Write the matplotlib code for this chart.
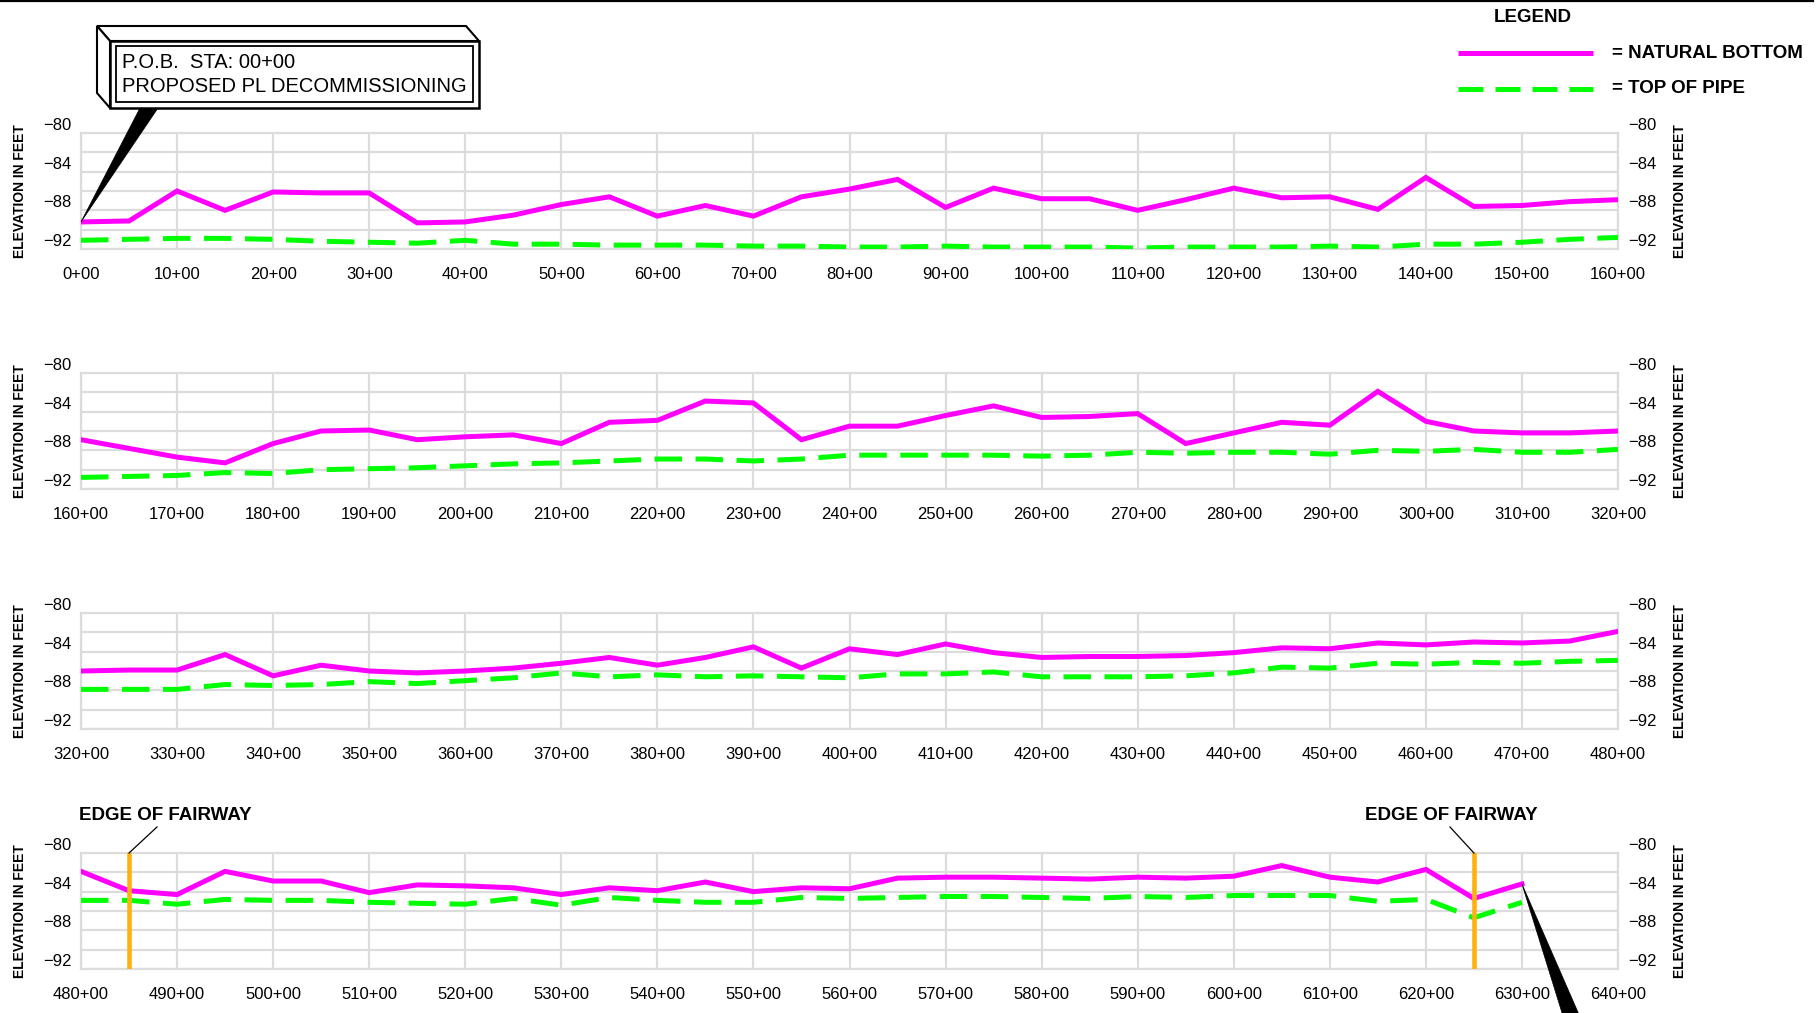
import matplotlib
matplotlib.use("Agg")
import matplotlib.pyplot as plt
from matplotlib.patches import Polygon, Rectangle
from matplotlib.lines import Line2D
from matplotlib.ticker import FuncFormatter, FixedLocator

plt.rcParams["font.family"] = ["Liberation Sans", "DejaVu Sans"]

# stations (x+00), every 5+00 from 0+00 to 630+00
stations = list(range(0, 635, 5))

natural_bottom = [
    -89.2, -89.1, -86.0, -88.0, -86.1, -86.2, -86.2, -89.3, -89.2, -88.5,
    -87.4, -86.6, -88.6, -87.5, -88.6, -86.6, -85.8, -84.8, -87.7, -85.7,
    -86.8, -86.8, -88.0, -86.9, -85.7, -86.7, -86.6, -87.9, -84.6, -87.6,
    -87.5, -87.1, -86.9, -87.8, -88.7, -89.3, -87.3, -86.0, -85.9, -86.9,
    -86.6, -86.4, -87.3, -85.1, -84.9, -82.9, -83.1, -86.9, -85.5, -85.5,
    -84.4, -83.4, -84.6, -84.5, -84.2, -87.3, -86.2, -85.1, -85.4, -81.9,
    -85.0, -86.0, -86.2, -86.2, -86.0, -85.9, -85.9, -84.3, -86.5, -85.4,
    -86.0, -86.2, -86.0, -85.7, -85.2, -84.6, -85.4, -84.6, -83.5, -85.7,
    -83.7, -84.3, -83.2, -84.1, -84.6, -84.5, -84.5, -84.4, -84.1, -83.6,
    -83.7, -83.1, -83.3, -83.0, -83.1, -82.9, -81.9, -83.9, -84.3, -81.9,
    -82.9, -82.9, -84.1, -83.3, -83.4, -83.6, -84.3, -83.6, -83.9, -83.0,
    -84.0, -83.6, -83.7, -82.6, -82.5, -82.5, -82.6, -82.7, -82.5, -82.6,
    -82.4, -81.3, -82.5, -83.0, -81.7, -84.7, -83.2,
]

top_of_pipe = [
    -91.1, -91.0, -90.9, -90.9, -91.0, -91.2, -91.3, -91.4, -91.1, -91.5,
    -91.5, -91.6, -91.6, -91.6, -91.7, -91.7, -91.8, -91.8, -91.7, -91.8,
    -91.8, -91.8, -91.9, -91.8, -91.8, -91.8, -91.7, -91.8, -91.5, -91.5,
    -91.3, -91.0, -90.8, -90.7, -90.6, -90.3, -90.4, -90.0, -89.9, -89.8,
    -89.6, -89.4, -89.3, -89.1, -88.9, -88.9, -89.1, -88.9, -88.5, -88.5,
    -88.5, -88.5, -88.6, -88.5, -88.2, -88.3, -88.2, -88.2, -88.4, -88.0,
    -88.1, -87.9, -88.2, -88.2, -87.9, -87.9, -87.9, -87.4, -87.5, -87.4,
    -87.1, -87.3, -87.0, -86.7, -86.2, -86.6, -86.4, -86.6, -86.5, -86.6,
    -86.7, -86.3, -86.3, -86.1, -86.6, -86.6, -86.6, -86.5, -86.2, -85.6,
    -85.7, -85.2, -85.3, -85.1, -85.2, -85.0, -84.9, -84.9, -85.3, -84.8,
    -84.9, -84.9, -85.1, -85.2, -85.3, -84.7, -85.4, -84.6, -84.9, -85.1,
    -85.1, -84.6, -84.7, -84.6, -84.5, -84.5, -84.6, -84.7, -84.5, -84.6,
    -84.4, -84.4, -84.4, -85.0, -84.8, -86.7, -85.1,
]

panel_starts = [0, 160, 320, 480]
panel_span = 160
elev_ticks = [-92, -90, -88, -86, -84, -82, -80]
fairway_edges = [485, 625]

W, H = 1817, 1013
fig = plt.figure(figsize=(W / 100, H / 100), dpi=100)

magenta = "#ff00ff"
green = "#00ff00"
grid_c = "#dcdcdc"
orange = "#ffb20f"

ax_left, ax_w, ax_h = 81, 1537, 116
tops = [133, 373, 613, 853]

def elev_fmt(v, pos):
    if int(round(v)) % 4 == 0:
        return f"{v:.0f}".replace("-", "\u2212")
    return ""

axes = []
for start, top in zip(panel_starts, tops):
    ax = fig.add_axes([ax_left / W, 1 - (top + ax_h) / H, ax_w / W, ax_h / H])
    end = start + panel_span
    xs = [s for s in stations if start <= s <= end]
    nb = [v for s, v in zip(stations, natural_bottom) if start <= s <= end]
    tp = [v for s, v in zip(stations, top_of_pipe) if start <= s <= end]

    ax.plot(xs, tp, color=green, lw=3.6, ls=(0, (5.5, 2.7)), zorder=3)
    ax.plot(xs, nb, color=magenta, lw=3.6, zorder=4, solid_joinstyle="miter")

    ax.set_xlim(start, end)
    ax.set_ylim(-92, -80)
    ax.xaxis.set_major_locator(FixedLocator(list(range(start, end + 1, 10))))
    ax.yaxis.set_major_locator(FixedLocator(elev_ticks))
    ax.xaxis.set_major_formatter(FuncFormatter(lambda v, p: f"{int(v)}+00"))
    ax.yaxis.set_major_formatter(FuncFormatter(elev_fmt))
    ax.grid(True, color=grid_c, lw=1.6, zorder=0)
    ax.set_axisbelow(True)
    for sp in ax.spines.values():
        sp.set_color(grid_c)
        sp.set_linewidth(1.6)
    ax.tick_params(axis="both", length=0, labelsize=12, colors="black")
    ax.tick_params(axis="x", pad=13)
    ax.tick_params(axis="y", pad=7, labelleft=True, labelright=True)
    for t in ax.yaxis.get_major_ticks():
        t.label1.set_va("bottom")
        t.label2.set_va("bottom")

    ax.text(-0.04, 0.5, "ELEVATION IN FEET", transform=ax.transAxes, rotation=90,
            ha="center", va="center", fontsize=10, fontweight="bold")
    ax.text(1.0403, 0.5, "ELEVATION IN FEET", transform=ax.transAxes, rotation=90,
            ha="center", va="center", fontsize=10, fontweight="bold")
    axes.append(ax)

ax4 = axes[3]
for xe in fairway_edges:
    ax4.axvline(xe, color=orange, lw=3.3, zorder=5)

# overlay in figure pixels (y down)
ov = fig.add_axes([0, 0, 1, 1])
ov.set_xlim(0, W)
ov.set_ylim(H, 0)
ov.axis("off")
ov.set_zorder(10)

def to_px(ax, x, y):
    px, py = ax.transData.transform((x, y))
    return px, H - py

# top border
ov.add_line(Line2D([0, 1813], [1, 1], color="black", lw=1.6))

# callout box (3D look)
fx0, fy0, fx1, fy1 = 110, 41, 479, 108
dx, dy = -13, -15
ov.add_patch(Polygon([(fx0 + dx, fy0 + dy), (fx1 + dx, fy0 + dy), (fx1, fy0), (fx0, fy0)],
                     closed=True, fc="white", ec="black", lw=1.5, zorder=2))
ov.add_patch(Polygon([(fx0 + dx, fy0 + dy), (fx0, fy0), (fx0, fy1), (fx0 + dx, fy1 + dy)],
                     closed=True, fc="white", ec="black", lw=1.5, zorder=2))
ov.add_patch(Rectangle((fx0, fy0), fx1 - fx0, fy1 - fy0, fc="white", ec="black", lw=1.8, zorder=3))
ov.add_patch(Rectangle((116, 46), 357, 56, fc="none", ec="black", lw=1.3, zorder=4))
ov.text(122, 62, "P.O.B.  STA: 00+00", ha="left", va="center", fontsize=14.5, zorder=5)
ov.text(122, 86, "PROPOSED PL DECOMMISSIONING", ha="left", va="center", fontsize=14.5, zorder=5)

tip = to_px(axes[0], stations[0], natural_bottom[0])
ov.add_patch(Polygon([(140, fy1), (158, fy1), tip], closed=True, fc="black", ec="black", lw=0.5, zorder=1))

tip2 = to_px(ax4, stations[-1], natural_bottom[-1])
ov.add_patch(Polygon([tip2, (tip2[0] + 42, H + 6), (tip2[0] + 59, H + 6)],
                     closed=True, fc="black", ec="black", lw=0.5, zorder=1))

# legend
ov.text(1533, 17, "LEGEND", ha="center", va="center", fontsize=13.5, fontweight="bold")
ov.add_line(Line2D([1458, 1593], [53, 53], color=magenta, lw=3.6, solid_capstyle="butt"))
ov.add_line(Line2D([1458, 1593], [89, 89], color=green, lw=3.6, ls=(0, (5, 2.4)), dash_capstyle="butt"))
ov.text(1612, 53, "= NATURAL BOTTOM", ha="left", va="center", fontsize=13.5, fontweight="bold")
ov.text(1612, 88, "= TOP OF PIPE", ha="left", va="center", fontsize=13.5, fontweight="bold")

# edge of fairway labels
for xe, tx, lx in [(fairway_edges[0], 79, 157), (fairway_edges[1], 1365, 1450)]:
    ov.text(tx, 815, "EDGE OF FAIRWAY", ha="left", va="center", fontsize=13.5, fontweight="bold")
    ex, ey = to_px(ax4, xe, -80)
    ov.add_line(Line2D([lx, ex], [827, ey], color="black", lw=0.9))

fig.savefig("out.png", dpi=100)
